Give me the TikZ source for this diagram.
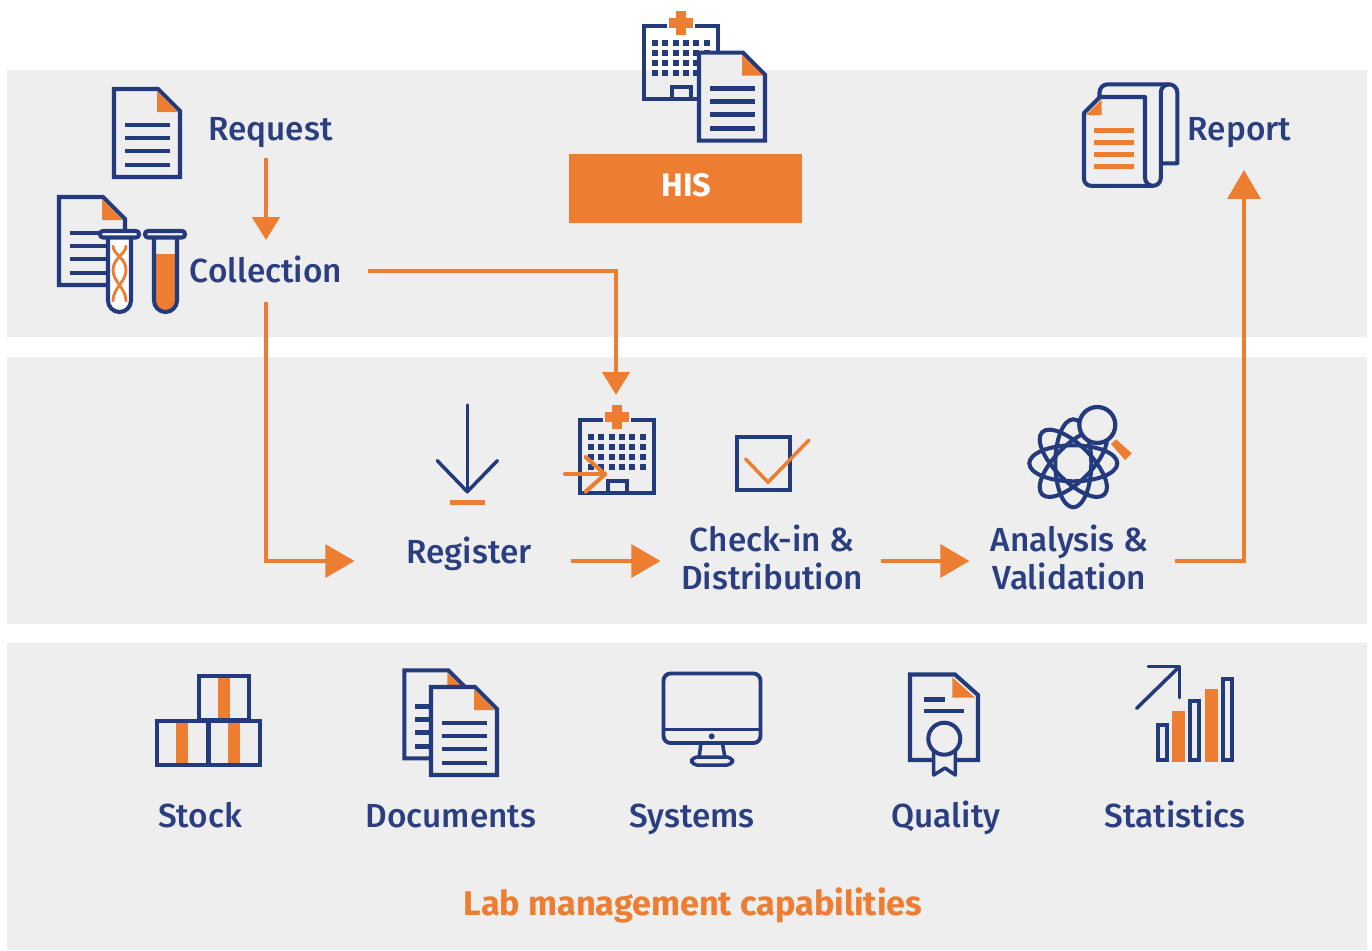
\documentclass[tikz,border=0pt]{standalone}
\usepackage{fontspec}
\setmainfont{Fira Sans Medium}[BoldFont={Fira Sans Bold}]
\usepackage{tikz}
\usetikzlibrary{arrows.meta, positioning}

\definecolor{labNavy}{HTML}{233A7D}
\definecolor{labOrange}{HTML}{ED7D31}
\definecolor{labGrey}{HTML}{EEEEEE}
\definecolor{labText}{HTML}{2A3E80}

\tikzset{
  icon/.style={draw=labNavy,line width=2.3pt},
  thinicon/.style={draw=labNavy,line width=2pt,line cap=round,line join=round},
  accent/.style={draw=labOrange,line width=2pt,line cap=round,line join=round},
  textline/.style={draw=labNavy,line width=2.8pt},
  flow/.style={draw=labOrange,line width=1.9pt,-{Triangle[length=13pt,width=15.5pt]}},
  bigflow/.style={draw=labOrange,line width=1.9pt,-{Triangle[length=16.5pt,width=18.7pt]}},
  lbl/.style={text=labText,font=\fontsize{19}{21.6}\selectfont,inner sep=0pt,outer sep=0pt},
  steplbl/.style={lbl,align=center,text height=17pt,text depth=13.6pt},
  caplbl/.style={lbl,anchor=base},
  % sheet of paper, origin at the top left of its outline
  docpage/.pic={
    \draw[icon,fill=labGrey,miter limit=2] (0,0) -- (44,0) -- (66,22) -- (66,88) -- (0,88) -- cycle;
    \fill[labOrange] (43,2) -- (43,23) -- (64,23) -- cycle;
    \foreach \ly in {36,49,62,76}
      \draw[textline] (11,\ly) -- (56,\ly);
  },
  % hospital front, origin at the top left of its outline
  hospital/.pic={
    \draw[icon] (25.5,2) -- (2,2) -- (2,75) -- (76,75) -- (76,2) -- (53.5,2);
    \draw[icon] (30,75) -- (30,63) -- (49.5,63) -- (49.5,75);
    \foreach \ci in {0,...,5}
      \foreach \cj in {0,...,3}
        \fill[labNavy] (10.3+10.3*\ci,16+10*\cj) rectangle +(6,6);
    \fill[labOrange] (34.5,-13) rectangle (44.5,11);
    \fill[labOrange] (27.5,-6) rectangle (51.5,4);
  }
}

\begin{document}
\begin{tikzpicture}[x=0.02cm,y=-0.02cm]
\useasboundingbox (0,0) rectangle (1372,950);

% Panels
\fill[labGrey] (7,70) rectangle (1367,337);
\fill[labGrey] (7,357) rectangle (1367,624);
\fill[labGrey] (7,643) rectangle (1367,950);

% Request
\pic at (114,89) {docpage};
\node[lbl,text height=22.8pt,text depth=10.2pt] (request) at (266,129) {\hspace*{5pt}Request};

% Collection
\pic at (59,197) {docpage};
\draw[icon,fill=white] (108,236) -- (108,300.5) arc[start angle=180,end angle=0,radius=11.5] -- (131,236);
\draw[accent,line width=1.6pt] (113,246) .. controls (113,254) and (126,258) .. (126,270) .. controls (126,282) and (113,288) .. (113,301);
\draw[accent,line width=1.6pt] (126,246) .. controls (126,254) and (113,258) .. (113,270) .. controls (113,282) and (126,288) .. (126,301);
\draw[icon,fill=white,rounded corners=1.7pt] (100,231) rectangle (139,237.5);
\fill[labOrange] (154,254) -- (177,254) -- (177,300.5) arc[start angle=0,end angle=180,radius=11.5] -- cycle;
\draw[icon] (154,236) -- (154,300.5) arc[start angle=180,end angle=0,radius=11.5] -- (177,236);
\draw[icon,fill=labGrey,rounded corners=1.7pt] (145,231) rectangle (185,237.5);
\node[lbl,minimum width=116pt,text height=24pt,text depth=11.3pt] (collection) at (266,271) {Collection};

% HIS
\pic at (641.7,24) {hospital};
\pic at (699,52.7) {docpage};
\node[fill=labOrange,text=white,font=\fontsize{18.5}{21.6}\bfseries,minimum width=132.6pt,minimum height=39.1pt,inner sep=0pt,text height=13pt,text depth=3.4pt] (his) at (685.5,188.5) {\hspace*{1pt}HIS};

% Report
\draw[icon,line join=round] (1099.5,97) -- (1099.5,92.5) arc[start angle=180,end angle=270,radius=8.2] -- (1169,84.3) arc[start angle=270,end angle=360,radius=8.3] -- (1177.3,163.3) -- (1160.8,163.3);
\draw[icon,line join=round] (1169,84.3) arc[start angle=270,end angle=180,radius=8.2] -- (1160.8,178) arc[start angle=0,end angle=90,radius=7.8] -- (1091,185.8) arc[start angle=90,end angle=180,radius=7] -- (1084,113) -- (1100,97) -- (1145,97) -- (1145,177.8) arc[start angle=180,end angle=90,radius=8];
\fill[labOrange] (1101.7,99.3) -- (1101.7,115) -- (1086,115) -- cycle;
\foreach \ly in {130.3,142.3,154.3,166.3}
  \draw[labOrange,line width=2.8pt] (1094,\ly) -- (1134,\ly);
\node[lbl,text height=29.6pt,text depth=17pt] (report) at (1244,129) {Report\hspace*{5pt}};

% Register icons
\draw[thinicon] (467.3,405) -- (467.3,491.7);
\draw[thinicon] (437.3,460.7) -- (467.3,491.7) -- (497.3,460.7);
\fill[labOrange] (450,500) rectangle (485,505);
\pic at (577.7,418) {hospital};
\draw[accent,line width=2.3pt] (565,474.3) -- (605,474.3);
\draw[accent,line width=2.3pt] (585.7,457) -- (605,474.3) -- (585.7,491.7);
\node[minimum width=44pt,minimum height=56.7pt,inner sep=0pt] (hospin) at (616,445) {};

% Check-in icon
\draw[icon] (737,437) rectangle (789.7,489.7);
\draw[accent] (745.7,459) -- (768,482.3) -- (809,440);

% Analysis icon
\foreach \ang in {0,45,90,135}
  \draw[icon,rotate around={\ang:(1073.3,463.3)}] (1073.3,463.3) ellipse (44 and 18);
\fill[labOrange] (1111,444) -- (1116,439.3) -- (1131.7,453.3) -- (1125,460) -- cycle;
\draw[icon,line width=2.4pt,fill=labGrey] (1097.3,425) circle[radius=18];

% Process steps
\node[steplbl,minimum width=123pt] (register) at (462.5,561) {\hspace*{7.4pt}Register};
\node[lbl,align=center,minimum width=125.3pt] (checkin) at (770.5,561) {\hspace*{2pt}Check-in \&\\\hspace*{2pt}Distribution\rule[-4.5pt]{0pt}{0pt}};
\node[lbl,align=center,minimum width=116.8pt] (analysis) at (1072,561) {Analysis \&\hspace*{3pt}\\Validation\hspace*{3pt}\rule[-4.5pt]{0pt}{0pt}};

% Connectors
\draw[flow] (request) -- (collection);
\draw[flow] (collection) -| (hospin);
\draw[bigflow] (collection) |- (register);
\draw[bigflow] (register) -- (checkin);
\draw[bigflow] (checkin) -- (analysis);
\draw[bigflow] (analysis) -| (report);

% Stock
\fill[labOrange] (218,676) rectangle (230,720);
\fill[labOrange] (176,721) rectangle (188,765);
\fill[labOrange] (228,721) rectangle (240,765);
\draw[icon] (199.3,676) rectangle (249,719.7);
\draw[icon] (157.3,721.3) rectangle (208,764.7);
\draw[icon] (208.7,721.3) rectangle (259.7,764.7);
\node[caplbl] (stock) at (200,827) {Stock};

% Documents
\pic at (404.3,670.3) {docpage};
\pic at (431,687) {docpage};
\node[caplbl] (documents) at (451,827) {Documents};

% Systems
\draw[thinicon,line width=2.2pt,rounded corners=4pt] (663.5,673.5) rectangle (760.5,743);
\draw[thinicon] (663.5,729.3) -- (760.5,729.3);
\fill[labNavy] (711.7,736.3) circle[radius=3];
\draw[thinicon] (700.7,745) -- (699.3,756);
\draw[thinicon] (722.7,745) -- (724.7,756);
\draw[thinicon,rounded corners=3pt] (691.5,757) rectangle (732.5,765);
\node[caplbl] (systems) at (692,827) {Systems};

% Quality
\draw[icon,fill=labGrey,miter limit=2] (932,760) -- (910,760) -- (910,674.5) -- (955,674.5) -- (978,695) -- (978,760) -- (956.7,760);
\fill[labOrange] (952.3,677.3) -- (952.3,697.7) -- (975,697.7) -- cycle;
\draw[textline] (924,699.3) -- (945,699.3);
\draw[textline] (924,711) -- (964,711);
\draw[thinicon] (933.7,750) -- (933.7,775) -- (945,768) -- (955.3,775) -- (955.3,750);
\draw[icon,fill=labGrey] (944.3,738.7) circle[radius=16];
\node[caplbl] (quality) at (946,827) {Quality};

% Statistics
\draw[thinicon] (1136.7,708.3) -- (1179.3,666.7);
\draw[thinicon] (1148.3,666.7) -- (1179.3,666.7) -- (1179.3,697.7);
\fill[labOrange] (1171.7,711) rectangle (1185,762.3);
\fill[labOrange] (1205,689) rectangle (1218.3,762.3);
\draw[icon] (1158,725.3) rectangle (1167,760.3);
\draw[icon] (1190.3,701.3) rectangle (1199.3,760.3);
\draw[icon] (1223,679.3) rectangle (1232,760.3);
\node[caplbl] (statistics) at (1175,827) {Statistics};

% Footer
\node[lbl,anchor=base,text=labOrange,font=\fontsize{19.5}{21.6}\bfseries] (capabilities) at (693,915) {Lab management capabilities};
\end{tikzpicture}
\end{document}
